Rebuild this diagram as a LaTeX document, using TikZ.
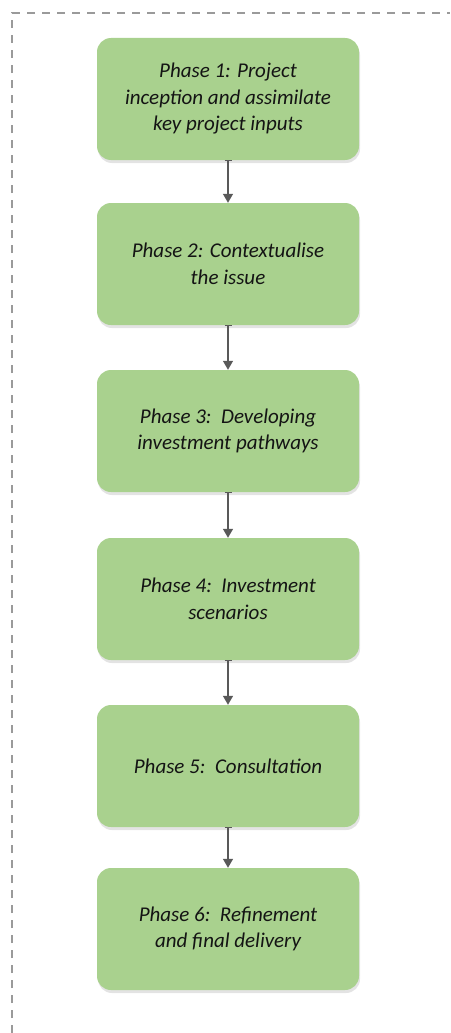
\documentclass[tikz,border=0pt]{standalone}
\usepackage{fontspec}
\setmainfont{Carlito}
\usetikzlibrary{arrows.meta,shadows}
\definecolor{phasegreen}{HTML}{A9D18E}
\definecolor{arrowgrey}{HTML}{595959}
\definecolor{frameline}{HTML}{9A9A9A}
\tikzset{
  phase/.style={draw=none, fill=phasegreen, rounded corners=14pt,
    minimum width=262pt, minimum height=122pt, align=center,
    font=\fontsize{21pt}{26.5pt}\selectfont\itshape, text=black!92,
    drop shadow={opacity=0.22, shadow xshift=1pt, shadow yshift=-3pt}},
  flow/.style={draw=arrowgrey, line width=1.4pt,
    {Bar[width=7pt,line width=1pt]}-{Triangle[width=10pt,length=9pt]}}
}
\begin{document}
\begin{tikzpicture}[x=1pt,y=1pt]
      \useasboundingbox (0,0) rectangle (450,-1033);
      % dashed frame, left and top only
      \draw[frameline, line width=1.6pt, dash pattern=on 8pt off 7pt]
        (12,-1033) -- (12,-13) -- (450,-13);
      \path
        (228,-99) node[phase] (1){Phase 1: Project\\inception and assimilate\\key project inputs}
        (228,-264) node[phase] (2){Phase 2: Contextualise\\the issue}
        (228,-431) node[phase] (3){Phase 3:\ \ Developing\\investment pathways}
        (228,-599) node[phase] (4){Phase 4:\ \ Investment\\scenarios}
        (228,-766) node[phase] (5){Phase 5:\ \ Consultation}
        (228,-929) node[phase] (6){Phase 6:\ \ Refinement\\and final delivery};
      \begin{scope}[flow]
        \draw (1) to (2);
        \draw (2) to (3);
        \draw (3) to (4);
        \draw (4) to (5);
        \draw (5) to (6);
      \end{scope}
    \end{tikzpicture}
\end{document}
